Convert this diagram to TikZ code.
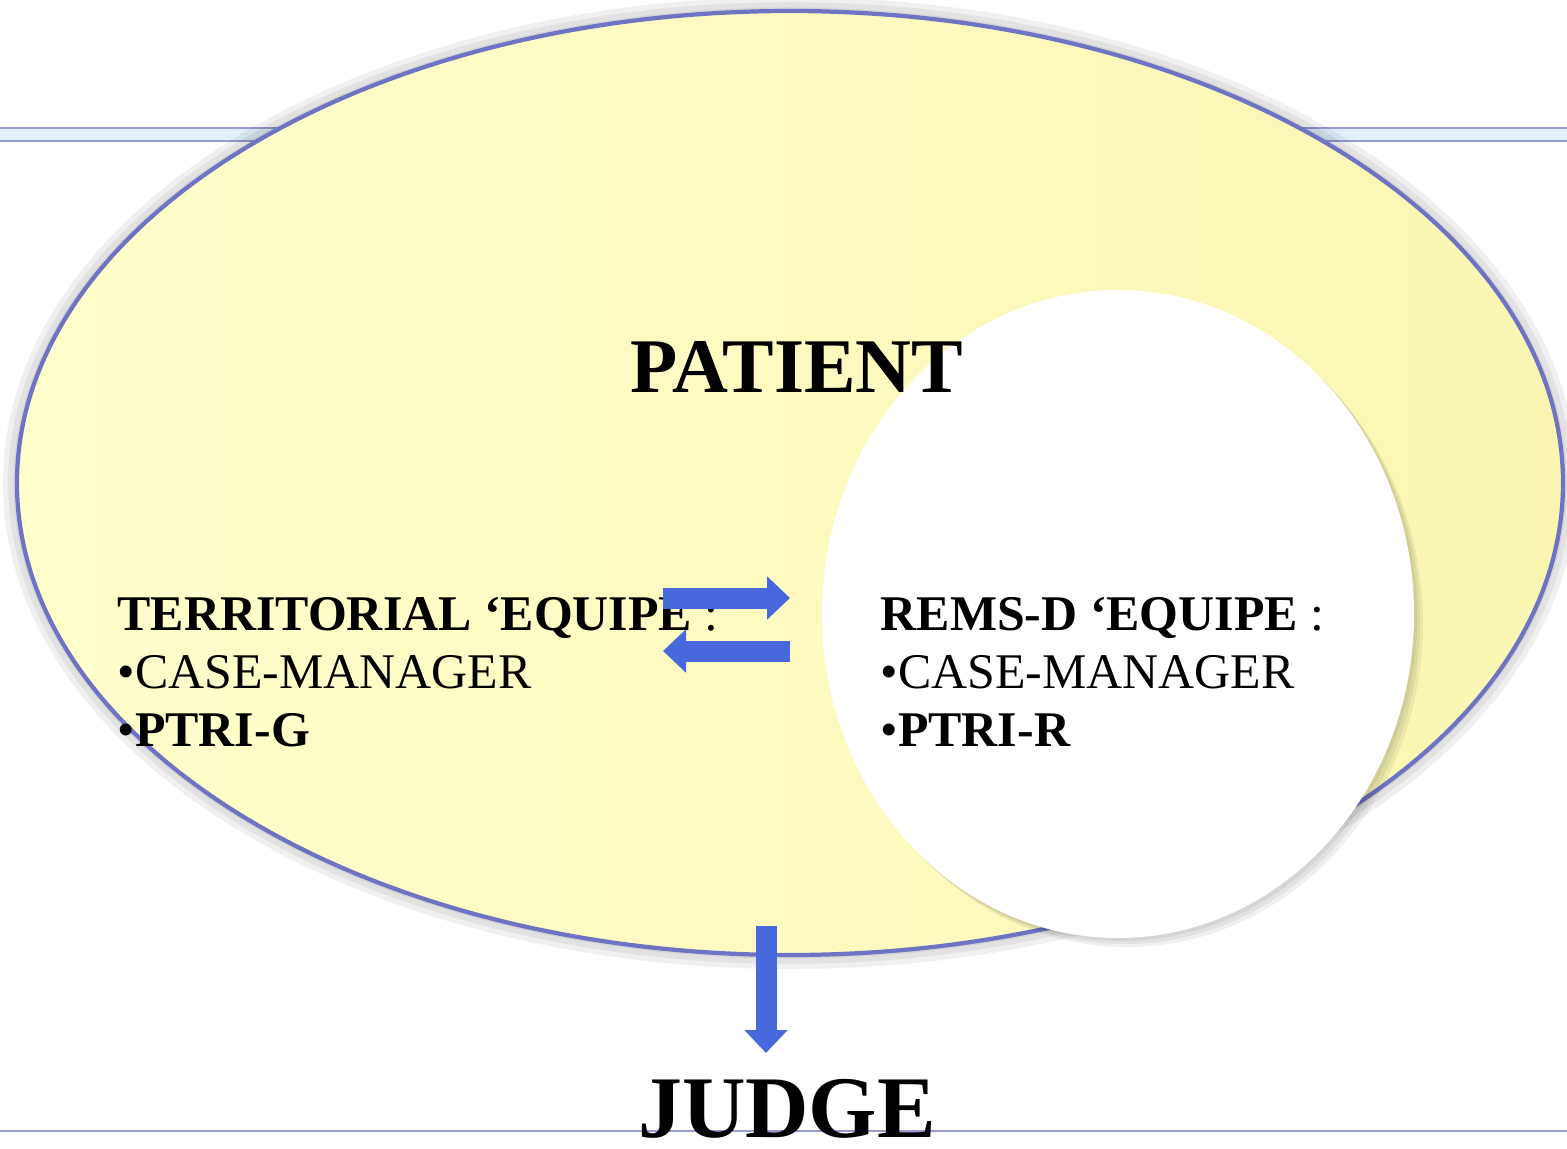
\documentclass[tikz,border=0pt]{standalone}
\usepackage{fontspec}
\setmainfont{Liberation Serif}
\usetikzlibrary{arrows.meta}
\definecolor{bandline}{RGB}{150,155,210}
\definecolor{bandfill}{RGB}{224,240,252}
\definecolor{ovalline}{RGB}{110,115,195}
\definecolor{ovalA}{RGB}{255,255,205}
\definecolor{ovalB}{RGB}{250,246,178}
\definecolor{arrowblue}{RGB}{72,104,222}
\tikzstyle{team} = [anchor=north west, inner sep=0pt, align=left, font=\fontsize{14.2}{16.5}\selectfont]
\tikzstyle{title} = [inner sep=0pt, font=\fontsize{22}{27}\selectfont\bfseries]
\tikzstyle{block} = [arrowblue, line width=2.1mm, -{Triangle[width=4.2mm,length=2.3mm]}]
\tikzstyle{glow} = [black, opacity=0.06]

\begin{document}
\begin{tikzpicture}
  \useasboundingbox (0,0) rectangle (15.67,-11.49);
  % background bands
  \fill[bandfill] (0,-1.28) rectangle (15.67,-1.41);
  \draw[bandline] (0,-1.28) -- (15.67,-1.28);
  \draw[bandline] (0,-1.41) -- (15.67,-1.41);
  \draw[bandline] (0,-11.31) -- (15.67,-11.31);
  % patient oval
  \foreach \w in {8,5,2}
    \draw[glow, line width=\w pt] (7.90,-4.83) ellipse [x radius=7.73, y radius=4.72];
  \path[left color=ovalA, right color=ovalB, draw=ovalline, line width=1.2pt]
    (7.90,-4.83) ellipse [x radius=7.73, y radius=4.72];
  % rems-d circle
  \foreach \s in {0.03,0.06,0.09}
    \fill[glow] (11.18+\s,-6.14-\s) ellipse [x radius=2.96, y radius=3.24];
  \fill[white] (11.18,-6.14) ellipse [x radius=2.96, y radius=3.24];

  \node (patient) at (7.97,-3.67) [title] {PATIENT};
  \node (judge) at (7.87,-11.09) [title, font=\fontsize{25}{28}\selectfont\bfseries] {JUDGE};
  \node (territorial) at (1.17,-5.97) [team]
    {\textbf{TERRITORIAL ‘EQUIPE} :\\•CASE-MANAGER\\•\textbf{PTRI-G}};
  \node (remsd) at (8.80,-5.97) [team]
    {\textbf{REMS-D ‘EQUIPE} :\\•CASE-MANAGER\\•\textbf{PTRI-R}};

  \coordinate (toA) at (6.63,-5.98);
  \coordinate (toB) at (7.90,-5.98);
  \coordinate (fromB) at (7.90,-6.51);
  \coordinate (fromA) at (6.63,-6.51);
  \coordinate (down) at (7.66,-9.26);
  \coordinate (up) at (7.66,-10.53);
  \draw [block] (toA) -- (toB);
  \draw [block] (fromB) -- (fromA);
  \draw [block] (down) -- (up);
\end{tikzpicture}
\end{document}
